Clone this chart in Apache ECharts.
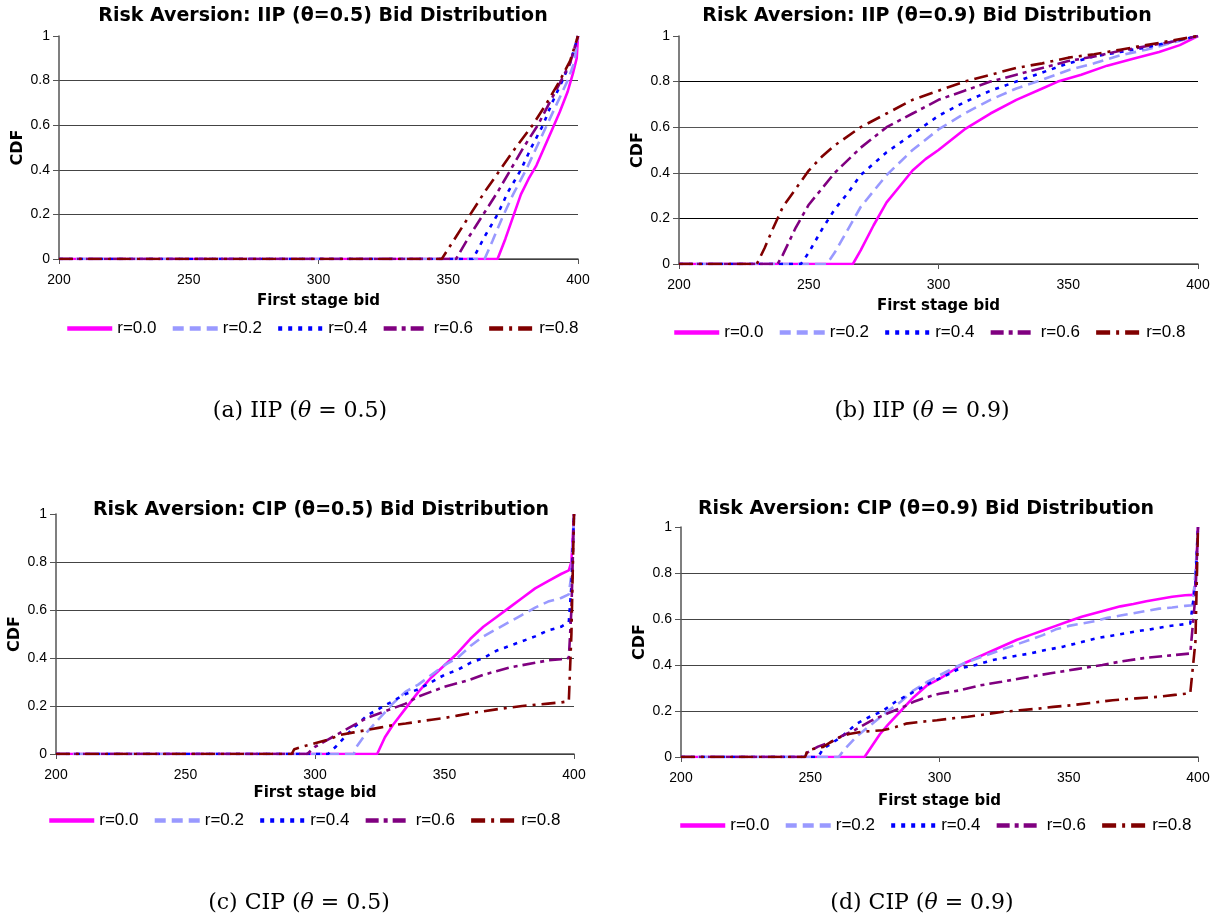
<!DOCTYPE html>
<html>
<head>
<meta charset="utf-8">
<title>Risk Aversion Bid Distribution</title>
<script src="https://cdn.jsdelivr.net/npm/echarts@6/dist/echarts.min.js"></script>
<style>
  html, body { margin: 0; padding: 0; background: #fff; }
  #main { width: 1225px; height: 919px; }
</style>
</head>
<body>
<div id="main"></div>
<script>
// legend names, one per risk aversion level
const riskNames = ['r=0.0', 'r=0.2', 'r=0.4', 'r=0.6', 'r=0.8'];
const xTicks = [200, 250, 300, 350, 400];
const xTickMarks = [200, 300, 400];
const yTicks = [0, 0.2, 0.4, 0.6, 0.8, 1];

// (a) IIP theta=0.5  [bid, CDF]
const iip05_r00 = [[200,0],[369,0],[372,0.09],[375,0.19],[378,0.29],[381,0.36],[384,0.42],[387,0.5],[390,0.58],[393,0.66],[396,0.75],[398,0.83],[399.5,0.9],[400,1]];
const iip05_r02 = [[200,0],[364,0],[367,0.08],[371,0.19],[375,0.29],[380,0.4],[384,0.5],[388,0.6],[392,0.7],[396,0.8],[398.5,0.88],[400,1]];
const iip05_r04 = [[200,0],[359.5,0],[364,0.1],[369,0.2],[373,0.3],[378,0.4],[382,0.5],[386.5,0.6],[390,0.7],[394,0.8],[397,0.88],[400,1]];
const iip05_r06 = [[200,0],[353,0],[358,0.1],[363.5,0.2],[369,0.3],[374,0.4],[379,0.5],[384.5,0.6],[389,0.7],[393.5,0.8],[397,0.88],[400,1]];
const iip05_r08 = [[200,0],[347.5,0],[353,0.1],[358.5,0.2],[364,0.3],[370,0.4],[376,0.5],[382.5,0.6],[388,0.7],[393,0.8],[397,0.89],[400,1]];

// (b) IIP theta=0.9
const iip09_r00 = [[200,0],[267,0],[270,0.06],[275,0.17],[280,0.27],[285,0.34],[290,0.41],[295,0.46],[300,0.5],[310,0.59],[320,0.66],[330,0.72],[340,0.77],[346,0.8],[355,0.83],[365,0.87],[375,0.9],[385,0.93],[393,0.96],[400,1]];
const iip09_r02 = [[200,0],[257,0],[260,0.05],[265,0.15],[270,0.25],[275,0.32],[280,0.39],[290,0.5],[300,0.59],[310,0.66],[320,0.72],[330,0.77],[338,0.8],[350,0.85],[360,0.88],[370,0.915],[380,0.94],[390,0.97],[400,1]];
const iip09_r04 = [[200,0],[247,0],[250,0.05],[255,0.15],[260,0.24],[265,0.31],[270,0.39],[280,0.49],[290,0.57],[300,0.65],[310,0.71],[320,0.76],[330,0.8],[340,0.84],[350,0.88],[360,0.91],[370,0.93],[380,0.95],[390,0.975],[400,1]];
const iip09_r06 = [[200,0],[238,0],[240,0.04],[245,0.16],[250,0.26],[255,0.33],[260,0.4],[270,0.51],[280,0.6],[290,0.66],[300,0.72],[310,0.76],[320,0.8],[330,0.83],[340,0.86],[350,0.89],[360,0.91],[370,0.935],[380,0.955],[390,0.975],[400,1]];
const iip09_r08 = [[200,0],[230,0],[233,0.07],[236,0.15],[240,0.25],[245,0.33],[250,0.41],[255,0.47],[260,0.52],[270,0.6],[280,0.66],[290,0.72],[300,0.76],[310,0.8],[320,0.83],[330,0.86],[340,0.88],[350,0.905],[360,0.92],[370,0.94],[380,0.96],[390,0.98],[400,1]];

// (c) CIP theta=0.5
const cip05_r00 = [[200,0],[324,0],[327,0.07],[330,0.12],[335,0.19],[340,0.26],[345,0.32],[350,0.37],[355,0.42],[360,0.48],[365,0.53],[370,0.57],[375,0.61],[380,0.65],[385,0.69],[390,0.72],[395,0.75],[398,0.765],[399,0.8],[400,1]];
const cip05_r02 = [[200,0],[315,0],[316,0.03],[320,0.09],[325,0.15],[330,0.21],[335,0.26],[340,0.29],[345,0.33],[350,0.37],[355,0.4],[360,0.45],[365,0.49],[370,0.52],[375,0.55],[380,0.58],[385,0.61],[390,0.635],[395,0.65],[398,0.665],[399,0.75],[400,1]];
const cip05_r04 = [[200,0],[305,0],[308,0.03],[314,0.1],[320,0.16],[325,0.19],[330,0.22],[335,0.25],[340,0.27],[345,0.3],[350,0.33],[355,0.35],[360,0.38],[365,0.4],[370,0.43],[375,0.45],[380,0.47],[385,0.49],[390,0.515],[395,0.53],[398,0.55],[399,0.7],[400,1]];
const cip05_r06 = [[200,0],[297,0],[300,0.03],[305,0.06],[310,0.09],[315,0.12],[320,0.15],[325,0.17],[330,0.19],[335,0.21],[340,0.24],[345,0.26],[350,0.28],[355,0.295],[360,0.31],[365,0.33],[370,0.345],[375,0.36],[380,0.37],[385,0.38],[390,0.39],[395,0.395],[398,0.4],[399,0.6],[400,1]];
const cip05_r08 = [[200,0],[291,0],[292,0.02],[295,0.03],[300,0.045],[305,0.06],[310,0.08],[315,0.09],[320,0.1],[325,0.11],[330,0.12],[335,0.127],[340,0.135],[345,0.143],[350,0.15],[355,0.16],[360,0.17],[365,0.178],[370,0.186],[375,0.193],[380,0.2],[385,0.205],[390,0.21],[395,0.215],[398,0.22],[399,0.5],[400,1]];

// (d) CIP theta=0.9
const cip09_r00 = [[200,0],[271,0],[274,0.05],[277,0.1],[280,0.14],[285,0.2],[290,0.26],[295,0.31],[300,0.34],[305,0.375],[310,0.41],[315,0.435],[320,0.46],[325,0.485],[330,0.51],[335,0.53],[340,0.55],[345,0.57],[350,0.59],[355,0.61],[360,0.625],[365,0.64],[370,0.655],[375,0.665],[380,0.677],[385,0.687],[390,0.697],[395,0.703],[398,0.705],[399,0.75],[400,1]];
const cip09_r02 = [[200,0],[261,0],[263,0.03],[268,0.09],[274,0.145],[280,0.2],[285,0.24],[290,0.29],[295,0.325],[300,0.355],[305,0.385],[310,0.41],[315,0.43],[320,0.45],[325,0.47],[330,0.49],[335,0.51],[340,0.53],[345,0.555],[350,0.57],[355,0.58],[360,0.59],[365,0.605],[370,0.615],[375,0.625],[380,0.635],[385,0.645],[390,0.65],[395,0.657],[398,0.66],[399,0.8],[400,1]];
const cip09_r04 = [[200,0],[253,0],[255,0.036],[262,0.087],[268,0.145],[273,0.175],[278,0.2],[283,0.24],[289,0.277],[296,0.32],[303,0.357],[308,0.386],[314,0.4],[320,0.42],[327,0.435],[335,0.45],[341,0.465],[348,0.48],[355,0.5],[361,0.517],[368,0.53],[376,0.546],[382,0.556],[388,0.568],[393,0.575],[397,0.58],[399,0.75],[400,1]];
const cip09_r06 = [[200,0],[247,0],[249,0.02],[253,0.045],[258,0.065],[262,0.09],[267,0.116],[274,0.16],[280,0.19],[286,0.218],[290,0.24],[295,0.26],[300,0.275],[308,0.29],[315,0.31],[324,0.327],[333,0.345],[343,0.364],[353,0.382],[363,0.4],[370,0.415],[379,0.43],[388,0.44],[397,0.45],[399,0.7],[400,1]];
const cip09_r08 = [[200,0],[248,0],[249,0.03],[255,0.044],[260,0.08],[265,0.1],[270,0.11],[278,0.116],[283,0.13],[287,0.145],[293,0.153],[299,0.16],[305,0.168],[311,0.175],[318,0.186],[324,0.196],[331,0.203],[338,0.21],[344,0.218],[351,0.225],[359,0.236],[367,0.247],[376,0.255],[385,0.262],[391,0.27],[397,0.277],[399,0.5],[400,1]];

const panelData = [
    [iip05_r00, iip05_r02, iip05_r04, iip05_r06, iip05_r08],
    [iip09_r00, iip09_r02, iip09_r04, iip09_r06, iip09_r08],
    [cip05_r00, cip05_r02, cip05_r04, cip05_r06, cip05_r08],
    [cip09_r00, cip09_r02, cip09_r04, cip09_r06, cip09_r08]
];
const panelTitles = [
    'Risk Aversion: IIP (θ=0.5) Bid Distribution',
    'Risk Aversion: IIP (θ=0.9) Bid Distribution',
    'Risk Aversion: CIP (θ=0.5) Bid Distribution',
    'Risk Aversion: CIP (θ=0.9) Bid Distribution'
];
const captions = [
    ['(a) IIP (', '0.5)'],
    ['(b) IIP (', '0.9)'],
    ['(c) CIP (', '0.5)'],
    ['(d) CIP (', '0.9)']
];

// layout of each panel (pixels)
const grids = [
    { left: 59, top: 36, width: 519, height: 223 },
    { left: 679, top: 36, width: 519, height: 228 },
    { left: 56, top: 514, width: 518, height: 240 },
    { left: 681, top: 527, width: 517, height: 230 }
];
const titlePos = [[318, 2], [922, 2], [316, 496], [921, 495]];
const legendPos = [[65, 320], [672, 324], [47, 812], [678, 817]];
const captionPos = [[295, 395], [917, 395], [294, 887], [917, 887]];
const xNameGap = [35, 35, 32, 37];

const lineStyles = [
    { color: '#FF00FF', type: 'solid' },
    { color: '#9999FF', type: [11, 6] },
    { color: '#0000FF', type: [4, 6] },
    { color: '#800080', type: [13, 5, 4, 5] },
    { color: '#800000', type: [14, 6, 3, 6] }
];

const font = 'Liberation Sans, Arial, sans-serif';
const wideBold = 'DejaVu Sans, Verdana, sans-serif';
const serif = 'DejaVu Serif, serif';

const myChart = echarts.init(document.getElementById('main'));

let title = [], xAxis = [], yAxis = [], legend = [], series = [];

grids.forEach((g, i) => {
    title.push({
        text: panelTitles[i],
        left: titlePos[i][0],
        top: titlePos[i][1],
        textAlign: 'center',
        textStyle: { fontFamily: wideBold, fontSize: 19, fontWeight: 'bold', color: '#000' }
    });
    title.push({
        text: captions[i][0] + '{i|θ} = ' + captions[i][1],
        left: captionPos[i][0],
        top: captionPos[i][1],
        textAlign: 'center',
        textStyle: {
            fontFamily: serif, fontSize: 22, fontWeight: 'normal', color: '#000',
            rich: { i: { fontFamily: serif, fontSize: 22, fontStyle: 'italic', color: '#000' } }
        }
    });
    xAxis.push({
        type: 'value',
        gridIndex: i,
        min: xTicks[0],
        max: xTicks[xTicks.length - 1],
        interval: 50,
        name: 'First stage bid',
        nameLocation: 'middle',
        nameGap: xNameGap[i],
        nameTextStyle: { fontFamily: wideBold, fontSize: 15, fontWeight: 'bold', color: '#000' },
        axisLine: { show: true, lineStyle: { color: '#555', width: 1.5 } },
        axisTick: { show: true, length: 5, customValues: xTickMarks, lineStyle: { color: '#555' } },
        axisLabel: { fontFamily: font, fontSize: 14, color: '#000', margin: 14 },
        splitLine: { show: false }
    });
    yAxis.push({
        type: 'value',
        gridIndex: i,
        min: yTicks[0],
        max: yTicks[yTicks.length - 1],
        interval: 0.2,
        name: 'CDF',
        nameLocation: 'middle',
        nameGap: 33,
        nameTextStyle: { fontFamily: wideBold, fontSize: 16, fontWeight: 'bold', color: '#000' },
        axisLine: { show: true, lineStyle: { color: '#555', width: 1.5 } },
        axisTick: { show: true, length: 6, lineStyle: { color: '#555' } },
        axisLabel: { fontFamily: font, fontSize: 14, color: '#000', margin: 9 },
        splitLine: {
            show: true,
            lineStyle: {
                color: i === 1 ? ['#000', '#000', '#555', '#555', '#000', 'transparent'] : ['#000', '#444', '#444', '#444', '#444', 'transparent'],
                width: 1.2
            }
        }
    });
    legend.push({
        data: riskNames,
        left: legendPos[i][0],
        top: legendPos[i][1],
        orient: 'horizontal',
        padding: 0,
        itemWidth: 45,
        itemHeight: 14,
        itemGap: 14,
        itemStyle: { color: 'rgba(0,0,0,0)', borderColor: 'rgba(0,0,0,0)', borderWidth: 0, opacity: 0 },
        lineStyle: { width: 4.5 },
        textStyle: { fontFamily: font, fontSize: 17, color: '#000' },
        selectedMode: false
    });
    panelData[i].forEach((d, k) => {
        series.push({
            name: riskNames[k],
            type: 'line',
            xAxisIndex: i,
            yAxisIndex: i,
            data: d,
            showSymbol: false,
            symbol: 'none',
            lineStyle: { color: lineStyles[k].color, type: lineStyles[k].type, width: 2.6 },
            itemStyle: { color: lineStyles[k].color },
            z: 2 + k
        });
    });
});

myChart.setOption({
    backgroundColor: '#fff',
    animation: false,
    title,
    grid: grids,
    xAxis,
    yAxis,
    legend,
    series
});
</script>
</body>
</html>
